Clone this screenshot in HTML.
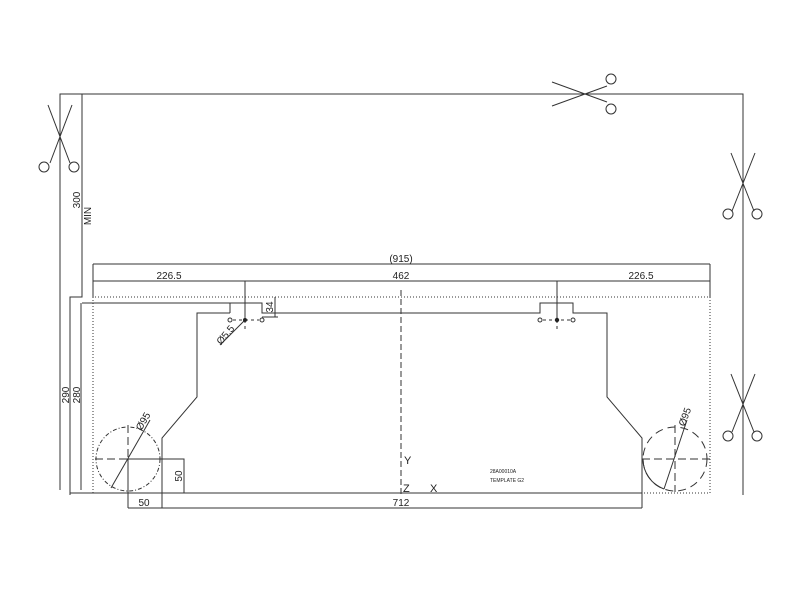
<!DOCTYPE html>
<html><head><meta charset="utf-8"><style>
body{margin:0;background:#fff}
svg{display:block}
text{font-family:"Liberation Sans",sans-serif;fill:#222}
</style></head><body>
<svg width="800" height="600" viewBox="0 0 800 600" xmlns="http://www.w3.org/2000/svg">
<g fill="none" stroke="#333" stroke-width="1">
<!-- outer frame -->
<polyline points="60,490 60,94 743,94 743,495"/>
<polyline points="82,94 82,297 70,297 70,495"/>
<line x1="81" y1="303" x2="81" y2="490"/>
<!-- scissors top -->
<g>
<line x1="552" y1="82" x2="607" y2="102"/><line x1="552" y1="106" x2="607" y2="86"/>
<circle cx="611" cy="79" r="5"/><circle cx="611" cy="109" r="5"/>
</g>
<!-- scissors left -->
<g>
<line x1="48" y1="105" x2="70" y2="163"/><line x1="72" y1="105" x2="50" y2="163"/>
<circle cx="44" cy="167" r="5"/><circle cx="74" cy="167" r="5"/>
</g>
<!-- scissors right -->
<g>
<line x1="731" y1="153" x2="754" y2="211"/><line x1="755" y1="153" x2="732" y2="211"/>
<circle cx="728" cy="214" r="5"/><circle cx="757" cy="214" r="5"/>
</g>
<g>
<line x1="731" y1="374" x2="754" y2="432"/><line x1="755" y1="374" x2="732" y2="432"/>
<circle cx="728" cy="436" r="5"/><circle cx="757" cy="436" r="5"/>
</g>
<!-- dim lines -->
<line x1="93" y1="264" x2="710" y2="264"/>
<line x1="93" y1="281" x2="710" y2="281"/>
<line x1="93" y1="264" x2="93" y2="297"/>
<line x1="710" y1="264" x2="710" y2="297"/>
<line x1="245" y1="281" x2="245" y2="320"/>
<line x1="557" y1="281" x2="557" y2="320"/>
<!-- dotted rect -->
<polyline points="93,493 93,297 710,297 710,493 642,493" stroke-dasharray="1,2"/>
<!-- template shape -->
<polyline points="82,303 262,303 262,313 540,313 540,303 573,303 573,313 607,313 607,397 642,438 642,508"/>
<polyline points="230,313 230,303"/>
<polyline points="230,313 197,313 197,397 162,438 162,508"/>
<line x1="70" y1="493" x2="642" y2="493"/>
<line x1="128" y1="508" x2="642" y2="508"/>
<line x1="128" y1="459" x2="128" y2="508"/>
<polyline points="128,459 184,459 184,493"/>
<!-- 34 dim -->
<line x1="275" y1="297" x2="275" y2="317"/>
<line x1="262" y1="317" x2="278" y2="317"/>
<!-- holes -->
<circle cx="230" cy="320" r="2"/><circle cx="262" cy="320" r="2"/>
<circle cx="540" cy="320" r="2"/><circle cx="573" cy="320" r="2"/>
<line x1="233" y1="320" x2="259" y2="320" stroke-dasharray="3,3"/>
<line x1="543" y1="320" x2="570" y2="320" stroke-dasharray="3,3"/>
<line x1="245" y1="320" x2="245" y2="330" stroke-dasharray="3,3"/>
<line x1="557" y1="320" x2="557" y2="330" stroke-dasharray="3,3"/>
<line x1="245" y1="320" x2="220" y2="345"/>
<!-- center line -->
<line x1="401" y1="290" x2="401" y2="495" stroke-dasharray="6,3"/>
<line x1="401" y1="493" x2="428" y2="493"/>
<!-- left circle -->
<circle cx="128" cy="459" r="32" stroke-dasharray="4,2,1,2"/>
<line x1="95" y1="459" x2="160" y2="459" stroke-dasharray="8,4"/>
<line x1="128" y1="425" x2="128" y2="492" stroke-dasharray="8,4"/>
<line x1="111" y1="488" x2="150" y2="420"/>
<!-- right circle -->
<circle cx="675" cy="459" r="32" stroke-dasharray="8,5"/>
<path d="M643,459 A32,32 0 0 0 664,489"/>
<line x1="642" y1="459" x2="710" y2="459" stroke-dasharray="8,4"/>
<line x1="675" y1="425" x2="675" y2="492" stroke-dasharray="8,4"/>
<line x1="664" y1="489" x2="687" y2="420"/>
</g>
<circle cx="245" cy="320" r="2" fill="#222"/>
<circle cx="557" cy="320" r="2.2" fill="#222"/>
<g font-size="10">
<text x="401" y="262" text-anchor="middle">(915)</text>
<text x="169" y="279" text-anchor="middle">226.5</text>
<text x="401" y="279" text-anchor="middle">462</text>
<text x="641" y="279" text-anchor="middle">226.5</text>
<text x="144" y="506" text-anchor="middle">50</text>
<text x="401" y="506" text-anchor="middle">712</text>
<text x="404" y="464" font-size="11">Y</text>
<text x="403" y="492" font-size="11">Z</text>
<text x="430" y="492" font-size="11">X</text>
<text transform="translate(182,476) rotate(-90)" text-anchor="middle">50</text>
<text transform="translate(273,307) rotate(-90)" text-anchor="middle">34</text>
<text transform="translate(69,395) rotate(-90)" text-anchor="middle">290</text>
<text transform="translate(80,395) rotate(-90)" text-anchor="middle">280</text>
<text transform="translate(80,200) rotate(-90)" text-anchor="middle">300</text>
<text transform="translate(91,216) rotate(-90)" text-anchor="middle">MIN</text>
<text transform="translate(228,337) rotate(-50)" text-anchor="middle">Ø5.5</text>
<text transform="translate(146,423) rotate(-60)" text-anchor="middle">Ø95</text>
<text transform="translate(688,418) rotate(-70)" text-anchor="middle">Ø95</text>
</g>
<text x="490" y="473" font-size="5">28A00010A</text>
<text x="490" y="482" font-size="5">TEMPLATE G2</text>
</svg>
</body></html>
